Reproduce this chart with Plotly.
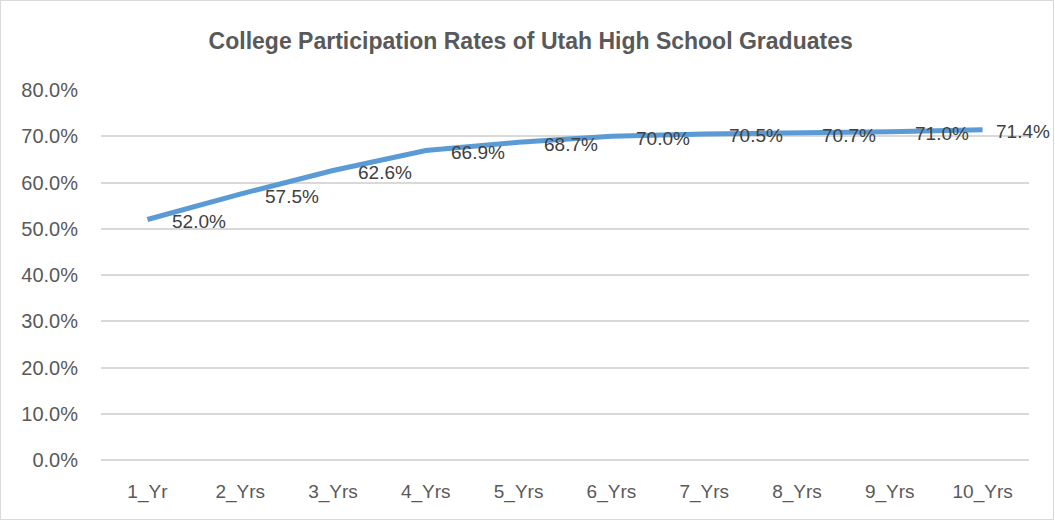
import plotly.graph_objects as go

# data
years = ["1_Yr", "2_Yrs", "3_Yrs", "4_Yrs", "5_Yrs", "6_Yrs", "7_Yrs", "8_Yrs", "9_Yrs", "10_Yrs"]
rates = [0.520, 0.575, 0.626, 0.669, 0.687, 0.700, 0.705, 0.707, 0.710, 0.714]
y_ticks = [0.0, 0.1, 0.2, 0.3, 0.4, 0.5, 0.6, 0.7, 0.8]

W, H = 1055, 521
L, R, T, B = 101, 26, 90, 61
FONT = "Liberation Sans"

fig = go.Figure()
fig.add_trace(go.Scatter(
    x=years, y=rates, mode="lines",
    line=dict(color="#5B9BD5", width=5),
    hoverinfo="skip", showlegend=False,
))

# data labels to the right of each point (last one pulled in to fit)
for i, (yr, v) in enumerate(zip(years, rates)):
    fig.add_annotation(
        x=yr, y=v, text=f"{v * 100:.1f}%", showarrow=False,
        xanchor="left", yanchor="middle",
        xshift=11 if i == len(years) - 1 else 23, yshift=-2,
        font=dict(family=FONT, size=19, color="#404040"),
    )

# thin frame round the whole chart
pw, ph = W - L - R, H - T - B
fig.add_shape(
    type="rect", xref="paper", yref="paper",
    x0=(0.5 - L) / pw, x1=(W - 1.5 - L) / pw,
    y0=-(H - 1.5 - T - ph) / ph, y1=1 + (T - 0.5) / ph,
    line=dict(color="#D9D9D9", width=1), layer="below",
)

fig.update_layout(
    width=W, height=H,
    margin=dict(l=L, r=R, t=T, b=B, autoexpand=False),
    paper_bgcolor="white", plot_bgcolor="white",
    title=dict(
        text="<b>College Participation Rates of Utah High School Graduates</b>",
        x=0.503, xref="container", y=1 - 41 / H, yanchor="middle",
        font=dict(family=FONT, size=23, color="#595959"),
    ),
    font=dict(family=FONT, color="#595959"),
)
fig.update_xaxes(
    type="category", range=[-0.5, len(years) - 0.5], automargin=False,
    showgrid=False, showline=False, zeroline=False,
    ticks="", tickfont=dict(size=19, color="#595959"), ticklabelstandoff=18,
)
fig.update_yaxes(
    range=[0, 0.8], tickvals=y_ticks, tickformat=".1%", automargin=False,
    showgrid=True, gridcolor="#D9D9D9", gridwidth=1.5,
    zeroline=True, zerolinecolor="#D9D9D9", zerolinewidth=1.5,
    showline=False, ticks="", ticklabelstandoff=22,
    tickfont=dict(size=20, color="#595959"),
)

# drop the default body margin so the figure sits at the page corner
fig.write_html(
    "out.html",
    config={"displayModeBar": False},
    post_script="document.body.style.margin='0';",
)
